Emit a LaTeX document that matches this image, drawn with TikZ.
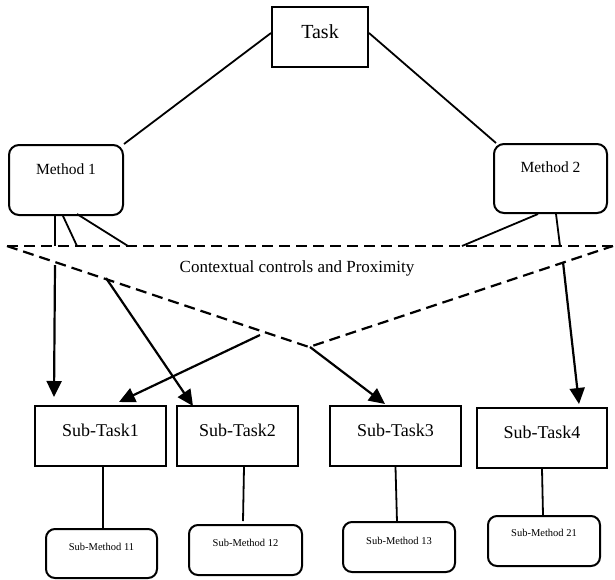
\documentclass[tikz,border=0pt]{standalone}
\usepackage{fontspec}
\setmainfont{Liberation Serif}
\usetikzlibrary{arrows.meta,calc}
\tikzset{
  sqbox/.style={draw, line width=2pt, inner sep=0pt},
  rbox/.style={draw, line width=2pt, inner sep=0pt, rounded corners=10pt},
  srbox/.style={draw, line width=2pt, inner sep=0pt, rounded corners=9pt},
  link/.style={line width=1.8pt},
  dline/.style={line width=2.2pt, dash pattern=on 11pt off 6pt},
  arr/.style={line width=2.2pt, -{Triangle[length=16pt,width=15pt]}},
}
\begin{document}
\begin{tikzpicture}[x=1pt,y=-1pt]
\useasboundingbox (0,0) rectangle (615,579);
% main nodes
\node[sqbox, minimum width=96pt, minimum height=60pt,
  label={[font=\fontsize{20}{22}\selectfont, yshift=5pt]center:Task}] (t) at (320,37) {};
\node[rbox, minimum width=114pt, minimum height=70pt,
  label={[font=\fontsize{15.5}{17}\selectfont, yshift=11pt]center:Method 1}] (m1) at (66,180) {};
\node[rbox, minimum width=113pt, minimum height=69pt,
  label={[font=\fontsize{15.5}{17}\selectfont, yshift=11.5pt]center:Method 2}] (m2) at (550.5,178.5) {};
% subtasks
\node[sqbox, minimum width=131pt, minimum height=60pt,
  label={[font=\fontsize{18}{20}\selectfont, yshift=6pt]center:Sub-Task1}] (st1) at (100.5,436) {};
\node[sqbox, minimum width=121pt, minimum height=60pt,
  label={[font=\fontsize{18}{20}\selectfont, yshift=6pt]center:Sub-Task2}] (st2) at (237.5,436) {};
\node[sqbox, minimum width=131pt, minimum height=60pt,
  label={[font=\fontsize{18}{20}\selectfont, yshift=6pt]center:Sub-Task3}] (st3) at (395.5,436) {};
\node[sqbox, minimum width=130pt, minimum height=60pt,
  label={[font=\fontsize{18}{20}\selectfont, yshift=6pt]center:Sub-Task4}] (st4) at (542,438) {};
% submethods
\node[srbox, minimum width=111pt, minimum height=49pt,
  label={[font=\fontsize{10.5}{12}\selectfont, yshift=6.5pt]center:Sub-Method 11}] (sm11) at (101.5,553.5) {};
\node[srbox, minimum width=113pt, minimum height=50pt,
  label={[font=\fontsize{10.5}{12}\selectfont, yshift=7pt]center:Sub-Method 12}] (sm12) at (245.5,550) {};
\node[srbox, minimum width=112pt, minimum height=50pt,
  label={[font=\fontsize{10.5}{12}\selectfont, yshift=6pt]center:Sub-Method 13}] (sm13) at (399,547) {};
\node[srbox, minimum width=112pt, minimum height=50pt,
  label={[font=\fontsize{10.5}{12}\selectfont, yshift=8pt]center:Sub-Method 21}] (sm21) at (544,541) {};
% context text
\node[font=\fontsize{17}{19}\selectfont] (ctx) at (297,268) {Contextual controls and Proximity};
% dashed lines
\coordinate (dl) at (7,246);
\coordinate (dr) at (613,246);
\coordinate (dv) at (309,347);
\draw[dline] (dl) -- (dr);
\draw[dline] (dl) -- (dv) -- (dr);
% task links
\draw[link] ($(t.west)+(0,-4)$) -- (m1.north east);
\draw[link] ($(t.east)+(0,-4)$) -- ($(m2.north west)+(3,0)$);
% method 1 links to dashed line
\coordinate (a1) at (55,246);
\coordinate (a2) at (77,246);
\coordinate (a3) at (128,246);
\draw[link] ($(m1.south)+(-11,0)$) -- (a1);
\draw[link] ($(m1.south)+(-3,0)$) -- (a2);
\draw[link] ($(m1.south)+(11,-2)$) -- (a3);
% method 2 links
\coordinate (b1) at (462,246);
\coordinate (b2) at (560,246);
\draw[link] ($(m2.south)+(-12.5,0)$) -- (b1);
\draw[link] ($(m2.south)+(5.5,0)$) -- (b2);
% arrows
\coordinate (s1) at (55,265);
\coordinate (s2) at (260,335);
\coordinate (s3) at (106,278);
\coordinate (s4) at (310,347);
\coordinate (s5) at (563,262);
\draw[arr] (s1) -- ($(st1.north west)+(20,-8)$);
\draw[arr] (s2) -- ($(st1.north west)+(85,-3)$);
\draw[arr] (s3) -- ($(st2.north west)+(17,1)$);
\draw[arr] (s4) -- ($(st3.north west)+(56,-1)$);
\draw[arr] (s5) -- ($(st4.north west)+(103,-3)$);
% subtask to submethod links
\draw[link] ($(st1.south)+(2.5,0)$) -- ($(st1.south |- sm11.north)+(2.5,0)$);
\draw[link] ($(st2.south)+(6.5,0)$) -- ($(st2.south |- sm12.north)+(5.5,-3)$);
\draw[link] (st3.south) -- ($(st3.south |- sm13.north)+(1.5,1)$);
\draw[link] (st4.south) -- ($(st4.south |- sm21.north)+(1,0)$);
\end{tikzpicture}
\end{document}
